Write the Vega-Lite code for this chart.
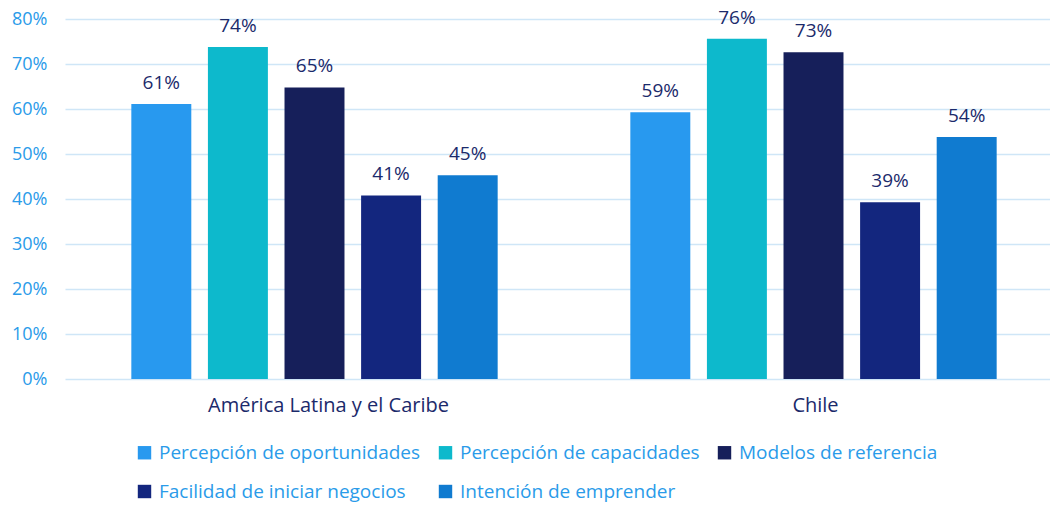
{
  "$schema": "https://vega.github.io/schema/vega-lite/v6.json",
  "autosize": {"type": "none"},
  "width": 985,
  "height": 360,
  "padding": {"left": 65, "top": 19, "right": 0, "bottom": 127},
  "background": "white",
  "config": {
    "font": "Open Sans",
    "view": {"stroke": null}
  },
  "data": {
    "values": [
      {"region": "América Latina y el Caribe", "indicador": "Percepción de oportunidades", "valor": 0.611},
      {"region": "América Latina y el Caribe", "indicador": "Percepción de capacidades", "valor": 0.738},
      {"region": "América Latina y el Caribe", "indicador": "Modelos de referencia", "valor": 0.648},
      {"region": "América Latina y el Caribe", "indicador": "Facilidad de iniciar negocios", "valor": 0.408},
      {"region": "América Latina y el Caribe", "indicador": "Intención de emprender", "valor": 0.453},
      {"region": "Chile", "indicador": "Percepción de oportunidades", "valor": 0.593},
      {"region": "Chile", "indicador": "Percepción de capacidades", "valor": 0.756},
      {"region": "Chile", "indicador": "Modelos de referencia", "valor": 0.726},
      {"region": "Chile", "indicador": "Facilidad de iniciar negocios", "valor": 0.393},
      {"region": "Chile", "indicador": "Intención de emprender", "valor": 0.538}
    ]
  },
  "encoding": {
    "x": {
      "field": "region", "type": "nominal", "sort": null,
      "scale": {"paddingInner": 0, "paddingOuter": 0, "range": [0, 998]},
      "axis": {"title": null, "labelAngle": 0, "ticks": false, "domain": false, "labelFontSize": 20, "labelColor": "#1b2a6b", "labelPadding": 16, "labelLimit": 500, "grid": false,
        "labelOffset": {"condition": {"test": "datum.value === 'Chile'", "value": 2}, "value": 14}}
    },
    "xOffset": {
      "field": "indicador", "type": "nominal", "sort": null,
      "scale": {"paddingInner": 0.217, "paddingOuter": 0.866}
    },
    "y": {
      "field": "valor", "type": "quantitative",
      "scale": {"domain": [0, 0.8], "nice": false},
      "axis": {"title": null, "format": ".0%", "values": [0, 0.1, 0.2, 0.3, 0.4, 0.5, 0.6, 0.7, 0.8], "ticks": false, "domain": false, "labelFontSize": 18, "labelColor": "#2a9be9", "labelPadding": 18, "gridColor": "#cfe6f7", "gridWidth": 1.5}
    }
  },
  "layer": [
    {
      "mark": {"type": "bar"},
      "encoding": {
        "color": {
          "field": "indicador", "type": "nominal", "sort": null,
          "scale": {
            "domain": ["Percepción de oportunidades", "Percepción de capacidades", "Modelos de referencia", "Facilidad de iniciar negocios", "Intención de emprender"],
            "range": ["#2899ef", "#0db9cc", "#161f5a", "#13267e", "#107bd0"]
          },
          "legend": {
            "title": null, "orient": "none", "legendX": 70, "legendY": 424, "direction": "horizontal", "columns": 3,
            "symbolType": "square", "symbolSize": 180, "symbolStrokeWidth": 0,
            "labelFontSize": 19, "labelColor": "#2a9be9", "labelOffset": 5,
            "rowPadding": 19, "columnPadding": 15, "labelLimit": 400
          }
        }
      }
    },
    {
      "mark": {"type": "text", "baseline": "bottom", "dy": -11, "fontSize": 19, "color": "#1b2a6b"},
      "encoding": {
        "text": {"field": "valor", "type": "quantitative", "format": ".0%"}
      }
    }
  ]
}
